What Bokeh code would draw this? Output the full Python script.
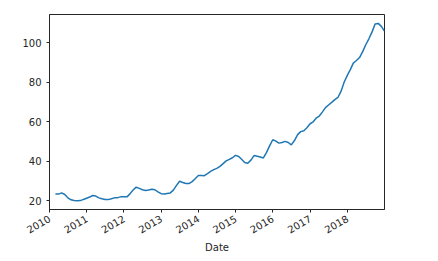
import math
import pandas as pd
from bokeh.plotting import figure
from bokeh.models import DatetimeTickFormatter, FixedTicker, Range1d
from bokeh.embed import file_html
from bokeh.resources import INLINE

start_month = "2010-02-28"
values = [
    23.5, 23.4, 24.0, 23.2, 21.5, 20.5, 20.2, 20.0, 20.1, 20.7, 21.3,
    21.9, 22.7, 22.4, 21.5, 21.0, 20.7, 20.6, 21.0, 21.5, 21.6, 22.0, 22.0,
    22.0, 23.5, 25.5, 26.9, 26.3, 25.6, 25.2, 25.5, 25.9, 25.6, 24.5, 23.6,
    23.4, 23.7, 24.0, 25.4, 27.8, 29.9, 29.3, 28.8, 28.7, 29.7, 31.2, 32.8,
    32.8, 32.7, 33.8, 34.9, 35.8, 36.4, 37.4, 38.8, 40.2, 41.0, 41.8, 43.0,
    42.4, 41.0, 39.4, 39.0, 40.6, 42.9, 42.6, 42.2, 41.7, 44.5, 47.8, 50.9,
    50.2, 49.2, 49.5, 50.1, 49.5, 48.3, 50.5, 53.5, 55.0, 55.5, 57.0, 59.0,
    60.0, 61.8, 62.9, 64.9, 67.2, 68.5, 69.8, 71.2, 72.3, 75.5, 80.0, 83.5,
    86.5, 89.7, 91.0, 92.5, 95.5, 99.0, 102.0, 105.5, 109.5, 109.8, 108.3, 105.9,
]
dates = pd.date_range(start_month, periods=len(values), freq="ME")
tick_years = list(range(2010, 2019))
y_ticks = [20, 40, 60, 80, 100]

x_start = pd.Timestamp("2010-01-01")
x_end = dates[-1]

p = figure(width=438, height=261, x_axis_type="datetime",
           output_backend="svg", toolbar_location=None,
           x_range=Range1d(x_start, x_end), y_range=Range1d(15.6, 114.3),
           min_border_left=49, min_border_right=54, min_border_top=14,
           min_border_bottom=52)
p.line(dates, values, line_color="#1f77b4", line_width=1.5)

p.xaxis.ticker = FixedTicker(ticks=[pd.Timestamp(f"{y}-01-01").value / 1e6 for y in tick_years])
p.xaxis.formatter = DatetimeTickFormatter(years="%Y", months="%Y", days="%Y")
p.xaxis.major_label_orientation = math.pi / 6
p.xaxis.axis_label = "Date"
p.yaxis.ticker = FixedTicker(ticks=y_ticks)

for ax in (p.xaxis, p.yaxis):
    ax.major_label_text_font = "DejaVu Sans"
    ax.major_label_text_font_size = "10px"
    ax.major_label_text_color = "#262626"
    ax.axis_label_text_font = "DejaVu Sans"
    ax.axis_label_text_font_size = "10px"
    ax.axis_label_text_font_style = "normal"
    ax.axis_label_text_color = "#262626"
    ax.minor_tick_line_color = None
    ax.major_tick_in = 0
    ax.major_tick_out = 3
    ax.axis_line_color = "#262626"
    ax.major_tick_line_color = "#262626"
p.xaxis.axis_label_standoff = 2

p.grid.grid_line_color = None
p.outline_line_color = "#262626"
p.outline_line_alpha = 1
p.background_fill_color = "white"
p.border_fill_color = "white"

open("out.html", "w").write(file_html(p, INLINE))
